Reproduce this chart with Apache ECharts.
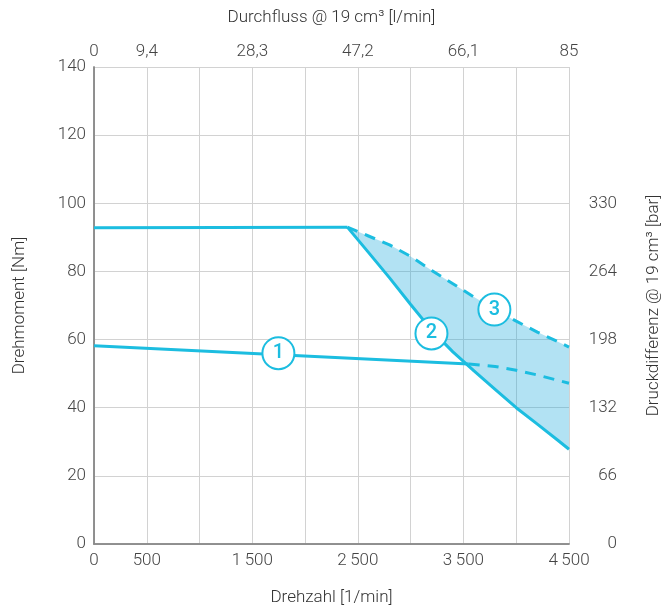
<!DOCTYPE html>
<html>
<head>
<meta charset="utf-8">
<script src="https://cdn.jsdelivr.net/npm/echarts@6/dist/echarts.min.js"></script>
<style>
  html, body { margin: 0; padding: 0; background: #fff; }
  #grafico { width: 670px; height: 611px; }
</style>
</head>
<body>
<div id="grafico"></div>
<script>
// Drehzahl [1/min] -> Drehmoment [Nm]
const plateau = [[0, 92.8], [2400, 93.0]];
const kurve1 = [[0, 58.2], [3550, 52.8]];
const kurve1Gestrichelt = [[3550, 52.8], [3800, 52.1], [4000, 51.0], [4200, 49.6], [4500, 47.2]];

// Gemeinsame Drehzahlen für Kurve 2 und 3 (Fläche dazwischen)
const drehzahlen = [2400, 2600, 2800, 3000, 3200, 3400, 3600, 3800, 4000, 4200, 4400, 4500];
const kurve2 = [93.0, 85.6, 78.1, 70.3, 62.7, 56.4, 50.8, 45.4, 40.0, 35.2, 30.3, 27.8];
const kurve3 = [93.0, 90.4, 87.8, 84.4, 80.3, 76.4, 72.5, 68.8, 65.4, 62.2, 59.3, 57.8];

// Markierungen (Drehzahl, Moment, Text)
const markierungen = [
  { kurve: 1, coord: [1747, 56.0], text: '1' },
  { kurve: 2, coord: [3197, 61.8], text: '2' },
  { kurve: 3, coord: [3793, 68.8], text: '3' },
];

const achseUntenLabels = { 0: '0', 500: '500', 1500: '1\u2009500', 2500: '2\u2009500', 3500: '3\u2009500', 4500: '4\u2009500' };
const achseObenLabels = { 0: '0', 500: '9,4', 1500: '28,3', 2500: '47,2', 3500: '66,1', 4500: '85' };
const achseRechtsLabels = [0, 66, 132, 198, 264, 330];

const farbe = '#1cbde0';
const schrift = 'Roboto';
const rahmen = '#8a8a8a';

const paare = (ys) => drehzahlen.map((x, i) => [x, ys[i]]);

function markPunkt(nr) {
  const m = markierungen.filter((d) => d.kurve === nr);
  return {
    symbol: 'circle',
    symbolSize: 32,
    silent: true,
    itemStyle: { color: '#fff', borderColor: farbe, borderWidth: 2 },
    label: { show: true, position: 'inside', color: farbe, fontSize: 20, fontWeight: 500, fontFamily: schrift, formatter: (p) => p.name },
    data: m.map((d) => ({ name: d.text, coord: d.coord })),
  };
}

// Fläche zwischen Kurve 3 (oben) und Kurve 2 (unten)
function flaeche(params, api) {
  if (params.dataIndex !== 0) return null;
  const oben = paare(kurve3).map((p) => api.coord(p));
  const unten = paare(kurve2).reverse().map((p) => api.coord(p));
  return {
    type: 'polygon',
    shape: { points: oben.concat(unten) },
    style: { fill: 'rgba(28, 170, 220, 0.34)' },
  };
}

const chart = echarts.init(document.getElementById('grafico'));

const achsenText = { color: '#333', fontSize: 17, fontFamily: schrift, fontWeight: 300 };

const option = {
  backgroundColor: '#fff',
  animation: false,
  textStyle: { fontFamily: schrift },
  grid: { left: 94, right: 97, top: 67, bottom: 64 },
  xAxis: [
    {
      type: 'value', position: 'bottom', min: 0, max: 4500, interval: 500,
      name: 'Drehzahl [1/min]', nameLocation: 'middle', nameGap: 45,
      nameTextStyle: achsenText,
      axisLine: { show: true, lineStyle: { color: rahmen, width: 1.5 } },
      axisTick: { show: false },
      axisLabel: { color: '#444', fontSize: 17, fontWeight: 300, margin: 8, formatter: (v) => achseUntenLabels[v] || '' },
      splitLine: { show: true, lineStyle: { color: '#d2d2d2', width: 1 } },
    },
    {
      type: 'value', position: 'top', min: 0, max: 4500, interval: 500,
      name: 'Durchfluss @ 19 cm³ [l/min]', nameLocation: 'middle', nameGap: 41,
      nameTextStyle: achsenText,
      axisLine: { show: true, lineStyle: { color: rahmen, width: 1.5 } },
      axisTick: { show: false },
      axisLabel: { color: '#444', fontSize: 17, fontWeight: 300, margin: 7, formatter: (v) => achseObenLabels[v] || '' },
      splitLine: { show: false },
    },
  ],
  yAxis: [
    {
      type: 'value', position: 'left', min: 0, max: 140, interval: 20,
      name: 'Drehmoment [Nm]', nameLocation: 'middle', nameGap: 66,
      nameTextStyle: achsenText,
      axisLine: { show: true, lineStyle: { color: rahmen, width: 1.5 } },
      axisTick: { show: false },
      axisLabel: { color: '#444', fontSize: 17, fontWeight: 300, margin: 8 },
      splitLine: { show: true, lineStyle: { color: '#d2d2d2', width: 1 } },
    },
    {
      type: 'value', position: 'right', min: 0, max: 462, interval: 66,
      name: 'Druckdifferenz @ 19 cm³ [bar]', nameLocation: 'middle', nameGap: 76,
      nameTextStyle: achsenText,
      axisLine: { show: true, lineStyle: { color: rahmen, width: 1.5 } },
      axisTick: { show: false },
      axisLabel: { color: '#444', fontSize: 17, fontWeight: 300, margin: 48, align: 'right',
        formatter: (v) => (achseRechtsLabels.indexOf(v) >= 0 ? String(v) : '') },
      splitLine: { show: false },
    },
  ],
  series: [
    {
      type: 'custom', renderItem: flaeche, data: [[drehzahlen[0], kurve2[0]]],
      silent: true, z: 1,
    },
    {
      type: 'line', data: plateau, symbol: 'none',
      lineStyle: { color: farbe, width: 3 }, z: 3,
    },
    {
      type: 'line', data: kurve1, symbol: 'none',
      lineStyle: { color: farbe, width: 3 }, z: 3,
      markPoint: markPunkt(1),
    },
    {
      type: 'line', data: kurve1Gestrichelt, symbol: 'none',
      lineStyle: { color: farbe, width: 3, type: [11, 8] }, z: 3,
    },
    {
      type: 'line', data: paare(kurve2), symbol: 'none',
      lineStyle: { color: farbe, width: 3 }, z: 3,
      markPoint: markPunkt(2),
    },
    {
      type: 'line', data: paare(kurve3), symbol: 'none',
      lineStyle: { color: farbe, width: 3, type: [11, 8] }, z: 3,
      markPoint: markPunkt(3),
    },
  ],
};

chart.setOption(option);
</script>
</body>
</html>
